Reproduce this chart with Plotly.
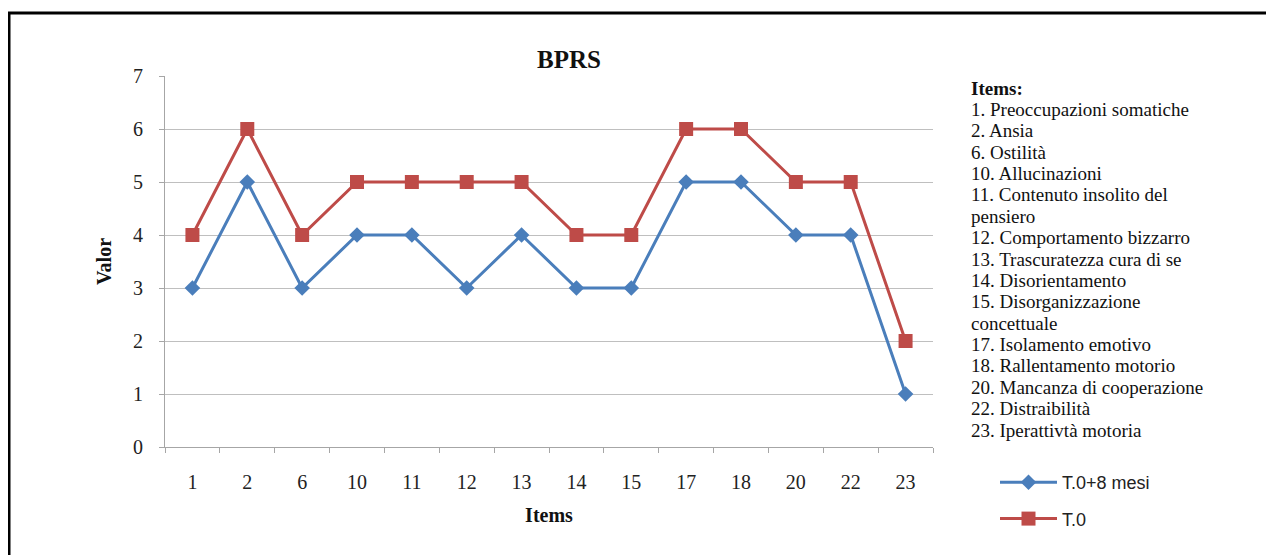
import plotly.graph_objects as go

categories = ["1", "2", "6", "10", "11", "12", "13", "14", "15", "17", "18", "20", "22", "23"]
t0_8mesi = [3, 5, 3, 4, 4, 3, 4, 3, 3, 5, 5, 4, 4, 1]
t0 = [4, 6, 4, 5, 5, 5, 5, 4, 4, 6, 6, 5, 5, 2]
item_lines = [
    "<b>Items:</b>",
    "1. Preoccupazioni somatiche",
    "2. Ansia",
    "6. Ostilità",
    "10. Allucinazioni",
    "11. Contenuto insolito del",
    "pensiero",
    "12. Comportamento bizzarro",
    "13. Trascuratezza cura di se",
    "14. Disorientamento",
    "15. Disorganizzazione",
    "concettuale",
    "17. Isolamento emotivo",
    "18. Rallentamento motorio",
    "20. Mancanza di cooperazione",
    "22. Distraibilità",
    "23. Iperattivtà motoria",
]

BLUE = "#4A7EBB"
RED = "#BE4B48"
SERIF = "Liberation Serif"

OFF = 8  # page body margin
W, H = 1274 - OFF, 555 - OFF
L, R, T, B = 165 - OFF, 933 - OFF, 76 - OFF, 447 - OFF


def px_x(p):
    # p in screenshot pixels
    return (p - OFF - L) / (R - L)


def px_y(p):
    return (B - (p - OFF)) / (B - T)


fig = go.Figure()
fig.add_trace(go.Scatter(
    x=categories, y=t0_8mesi, name="T.0+8 mesi", mode="lines+markers",
    legendgroup="a",
    line=dict(color=BLUE, width=3),
    marker=dict(symbol="diamond", size=12, color=BLUE),
))
fig.add_trace(go.Scatter(
    x=categories, y=t0, name="T.0", mode="lines+markers",
    legendgroup="b",
    line=dict(color=RED, width=3),
    marker=dict(symbol="square", size=14, color=RED),
))

fig.update_layout(
    width=W, height=H,
    margin=dict(l=L, r=W - R, t=T, b=H - B, autoexpand=False),
    paper_bgcolor="white", plot_bgcolor="white",
    showlegend=True,
    legend=dict(
        x=px_x(995), y=px_y(464), xanchor="left", yanchor="top",
        font=dict(family="Liberation Sans", size=18, color="#222"),
        bgcolor="rgba(0,0,0,0)", tracegroupgap=10, itemwidth=57,
    ),
    title=dict(
        text="<b>BPRS</b>", x=px_x(569), xref="paper", xanchor="center",
        y=1 - (59 - OFF) / H, yanchor="middle",
        font=dict(family=SERIF, size=25, color="#111"),
    ),
    font=dict(family=SERIF, color="#222"),
)

fig.update_xaxes(
    type="category", categoryorder="array", categoryarray=categories,
    range=[-0.5, len(categories) - 0.5],
    showgrid=False, showline=True, linecolor="#a6a6a6", linewidth=1,
    ticks="outside", tickson="boundaries", ticklen=5, tickcolor="#a6a6a6",
    tickfont=dict(family=SERIF, size=20, color="#222"),
    ticklabelstandoff=17,
    title=dict(text="<b>Items</b>", font=dict(family=SERIF, size=20, color="#111"), standoff=15),
    zeroline=False,
)
fig.update_yaxes(
    range=[0, 7], dtick=1, showgrid=True, gridcolor="#bfbfbf", gridwidth=1,
    showline=True, linecolor="#a6a6a6", linewidth=1,
    ticks="outside", ticklen=5, tickcolor="#a6a6a6",
    tickfont=dict(family=SERIF, size=20, color="#222"),
    ticklabelstandoff=12,
    title=dict(text="<b>Valor</b>", font=dict(family=SERIF, size=20, color="#111"), standoff=16),
    zeroline=False,
)

for i, line in enumerate(item_lines):
    fig.add_annotation(
        text=line, xref="paper", yref="paper",
        x=px_x(969), y=px_y(88 + i * 21.375), xanchor="left", yanchor="middle",
        align="left", showarrow=False,
        font=dict(family=SERIF, size=19, color="#111"),
    )

# outer frame (only top and left edges visible in the picture)
fig.add_shape(
    type="rect", xref="paper", yref="paper",
    x0=px_x(9), x1=px_x(1320), y0=px_y(620), y1=px_y(13),
    line=dict(color="black", width=3), fillcolor="rgba(0,0,0,0)", layer="above",
)

fig.write_html("out.html")
